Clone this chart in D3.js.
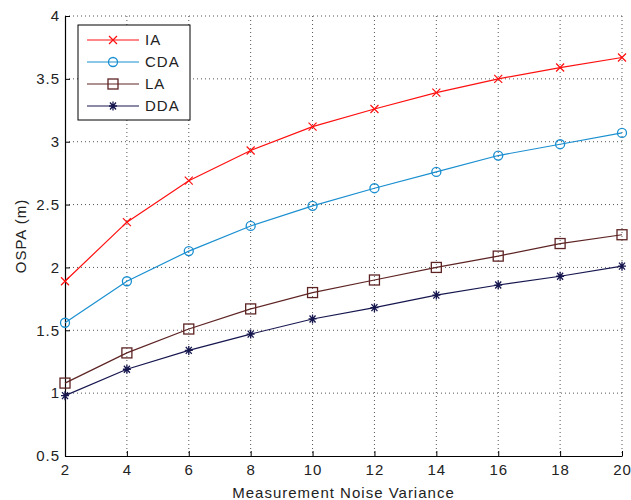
<!DOCTYPE html>
<html>
<head>
<meta charset="utf-8">
<script src="https://cdn.jsdelivr.net/npm/d3@7"></script>
<style>
  body { margin: 0; background: #fff; }
  text { font-family: Arial, "Liberation Sans", sans-serif; }
</style>
</head>
<body>
<div id="chart"></div>
<script>
// noise variance values on the x axis
var variances = [2, 4, 6, 8, 10, 12, 14, 16, 18, 20];

var iaValues  = [1.89, 2.36, 2.69, 2.93, 3.12, 3.26, 3.39, 3.50, 3.59, 3.67];
var cdaValues = [1.56, 1.89, 2.13, 2.33, 2.49, 2.63, 2.76, 2.89, 2.98, 3.07];
var laValues  = [1.08, 1.32, 1.51, 1.67, 1.80, 1.90, 2.00, 2.09, 2.19, 2.26];
var ddaValues = [0.98, 1.19, 1.34, 1.47, 1.59, 1.68, 1.78, 1.86, 1.93, 2.01];

var seriesNames = ["IA", "CDA", "LA", "DDA"];
var xTicks = [2, 4, 6, 8, 10, 12, 14, 16, 18, 20];
var yTicks = [0.5, 1, 1.5, 2, 2.5, 3, 3.5, 4];

var series = [
  {name: "IA",  values: iaValues,  color: "#ff1010", marker: "x"},
  {name: "CDA", values: cdaValues, color: "#1a8fd0", marker: "circle"},
  {name: "LA",  values: laValues,  color: "#5e2424", marker: "square"},
  {name: "DDA", values: ddaValues, color: "#16164f", marker: "star"}
];

var margin = {top: 16, right: 9, bottom: 44, left: 65},
    width = 631 - margin.left - margin.right,
    height = 500 - margin.top - margin.bottom;

var svg = d3.select("#chart")
    .append("svg")
    .attr("width", 631)
    .attr("height", 500)
    .append("g")
    .attr("transform", "translate(" + margin.left + "," + margin.top + ")");

var x = d3.scaleLinear().domain([2, 20]).range([0, width]);
var y = d3.scaleLinear().domain([0.5, 4]).range([height, 0]);

// dotted grid
svg.append("g").selectAll("line")
    .data(xTicks.slice(1))
    .enter().append("line")
    .attr("x1", d => x(d)).attr("x2", d => x(d))
    .attr("y1", 0).attr("y2", height)
    .attr("stroke", "#555").attr("stroke-width", 1)
    .attr("stroke-dasharray", "1,3");

svg.append("g").selectAll("line")
    .data(yTicks.slice(1))
    .enter().append("line")
    .attr("x1", 0).attr("x2", width)
    .attr("y1", d => y(d)).attr("y2", d => y(d))
    .attr("stroke", "#555").attr("stroke-width", 1)
    .attr("stroke-dasharray", "1,3");

// axes
var xAxis = svg.append("g")
    .attr("transform", "translate(0," + height + ")")
    .call(d3.axisBottom(x).tickValues(xTicks).tickSizeInner(-5).tickSizeOuter(0).tickPadding(10));
var yAxis = svg.append("g")
    .call(d3.axisLeft(y).tickValues(yTicks).tickSizeInner(-5).tickSizeOuter(0).tickPadding(5)
      .tickFormat(d3.format("")));

[xAxis, yAxis].forEach(function(a) {
  a.select(".domain").attr("stroke", "#000").attr("stroke-width", 1.2);
  a.selectAll(".tick line").attr("stroke", "#000");
  a.selectAll(".tick text").style("font-size", "15px").style("letter-spacing", "1px").attr("fill", "#222");
});
xAxis.selectAll(".tick text").attr("dy", "0.6em");

// axis labels
svg.append("text")
    .attr("text-anchor", "middle")
    .attr("x", width / 2)
    .attr("y", height + 42)
    .style("font-size", "15px")
    .style("letter-spacing", "1px")
    .attr("fill", "#222")
    .text("Measurement Noise Variance");

svg.append("text")
    .attr("text-anchor", "middle")
    .attr("transform", "rotate(-90)")
    .attr("x", -height / 2)
    .attr("y", -margin.left + 26)
    .style("font-size", "15px")
    .style("letter-spacing", "1px")
    .attr("fill", "#222")
    .text("OSPA (m)");

function drawMarker(g, type, color) {
  if (type === "x") {
    g.append("path").attr("d", "M-4,-4L4,4M-4,4L4,-4")
      .attr("stroke", color).attr("stroke-width", 1.2).attr("fill", "none");
  } else if (type === "circle") {
    g.append("circle").attr("r", 4.5)
      .attr("stroke", color).attr("stroke-width", 1.3).attr("fill", "none");
  } else if (type === "square") {
    g.append("rect").attr("x", -5).attr("y", -5).attr("width", 10).attr("height", 10)
      .attr("stroke", color).attr("stroke-width", 1.3).attr("fill", "none");
  } else {
    g.append("path").attr("d", "M-4,0L4,0M0,-4.5L0,4.5M-3,-3.5L3,3.5M-3,3.5L3,-3.5")
      .attr("stroke", color).attr("stroke-width", 1.3).attr("fill", "none");
  }
}

var line = d3.line()
    .x((d, i) => x(variances[i]))
    .y(d => y(d));

series.forEach(function(s) {
  svg.append("path")
      .datum(s.values)
      .attr("fill", "none")
      .attr("stroke", s.color)
      .attr("stroke-width", 1.2)
      .attr("d", line);
  s.values.forEach(function(v, i) {
    var g = svg.append("g")
        .attr("transform", "translate(" + x(variances[i]) + "," + y(v) + ")");
    drawMarker(g, s.marker, s.color);
  });
});

// legend
var legend = svg.append("g").attr("transform", "translate(13,9)");
legend.append("rect")
    .attr("width", 112).attr("height", 95)
    .attr("fill", "#fff").attr("stroke", "#000").attr("stroke-width", 1);

series.forEach(function(s, i) {
  var row = legend.append("g").attr("transform", "translate(0," + (15 + i * 22) + ")");
  row.append("line").attr("x1", 9).attr("x2", 61)
      .attr("stroke", s.color).attr("stroke-width", 1.2);
  var m = row.append("g").attr("transform", "translate(35,0)");
  drawMarker(m, s.marker, s.color);
  row.append("text").attr("x", 67).attr("dy", "0.36em")
      .style("font-size", "15px").style("letter-spacing", "1px").attr("fill", "#222")
      .text(seriesNames[i]);
});
</script>
</body>
</html>
